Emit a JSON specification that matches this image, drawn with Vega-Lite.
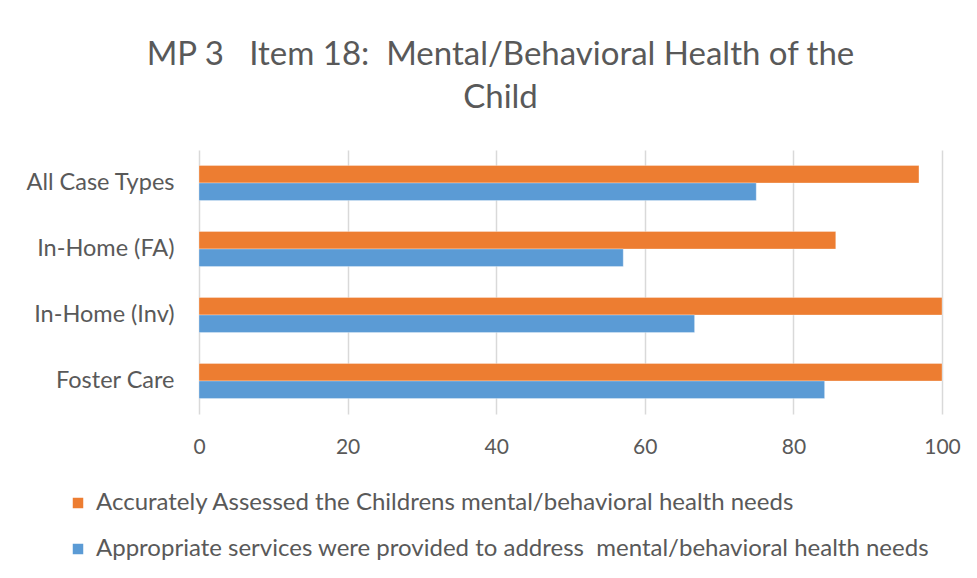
{
  "$schema": "https://vega.github.io/schema/vega-lite/v6.json",
  "width": 743,
  "height": 264,
  "autosize": {"type": "none"},
  "padding": {"left": 199, "top": 150, "right": 35, "bottom": 164},
  "background": "white",
  "title": {
    "text": ["MP 3\u00a0\u00a0\u00a0Item 18:\u00a0\u00a0Mental/Behavioral Health of the", "Child"],
    "anchor": "middle",
    "dx": -70,
    "offset": 35,
    "fontSize": 33,
    "font": "Lato",
    "fontWeight": "normal",
    "color": "#595959",
    "lineHeight": 43
  },
  "data": {
    "values": [
      {"category": "All Case Types", "series": "Accurately Assessed the Childrens mental/behavioral health needs", "value": 96.9},
      {"category": "All Case Types", "series": "Appropriate services were provided to address\u00a0\u00a0mental/behavioral health needs", "value": 75.0},
      {"category": "In-Home (FA)", "series": "Accurately Assessed the Childrens mental/behavioral health needs", "value": 85.7},
      {"category": "In-Home (FA)", "series": "Appropriate services were provided to address\u00a0\u00a0mental/behavioral health needs", "value": 57.1},
      {"category": "In-Home (Inv)", "series": "Accurately Assessed the Childrens mental/behavioral health needs", "value": 100},
      {"category": "In-Home (Inv)", "series": "Appropriate services were provided to address\u00a0\u00a0mental/behavioral health needs", "value": 66.7},
      {"category": "Foster Care", "series": "Accurately Assessed the Childrens mental/behavioral health needs", "value": 100},
      {"category": "Foster Care", "series": "Appropriate services were provided to address\u00a0\u00a0mental/behavioral health needs", "value": 84.2}
    ]
  },
  "mark": {"type": "bar", "stroke": "white", "strokeWidth": 0.5, "strokeOpacity": 0.6},
  "encoding": {
    "y": {
      "field": "category",
      "type": "nominal",
      "sort": ["All Case Types", "In-Home (FA)", "In-Home (Inv)", "Foster Care"],
      "scale": {"paddingInner": 0.47, "paddingOuter": 0.235},
      "axis": {
        "title": null,
        "ticks": false,
        "domain": false,
        "grid": false,
        "labelFontSize": 23.5,
        "labelFont": "Lato",
        "labelColor": "#595959",
        "labelPadding": 25
      }
    },
    "yOffset": {
      "field": "series",
      "type": "nominal",
      "sort": ["Accurately Assessed the Childrens mental/behavioral health needs", "Appropriate services were provided to address\u00a0\u00a0mental/behavioral health needs"],
      "scale": {"paddingInner": 0, "paddingOuter": 0}
    },
    "x": {
      "field": "value",
      "type": "quantitative",
      "scale": {"domain": [0, 100], "nice": false},
      "axis": {
        "title": null,
        "values": [0, 20, 40, 60, 80, 100],
        "ticks": false,
        "domain": false,
        "gridColor": "#d9d9d9",
        "gridWidth": 1.5,
        "labelFontSize": 21,
        "labelFont": "Lato",
        "labelColor": "#595959",
        "labelPadding": 22,
        "labelFlush": false
      }
    },
    "color": {
      "field": "series",
      "type": "nominal",
      "scale": {
        "domain": ["Accurately Assessed the Childrens mental/behavioral health needs", "Appropriate services were provided to address\u00a0\u00a0mental/behavioral health needs"],
        "range": ["#ED7D31", "#5B9BD5"]
      },
      "legend": {
        "title": null,
        "orient": "none",
        "legendX": -133,
        "legendY": 341,
        "direction": "vertical",
        "symbolType": "square",
        "symbolSize": 110,
        "symbolStrokeWidth": 0,
        "labelFontSize": 24,
        "labelFont": "Lato",
        "labelColor": "#595959",
        "labelLimit": 900,
        "rowPadding": 22,
        "labelOffset": 6
      }
    }
  },
  "config": {"view": {"stroke": null}}
}
